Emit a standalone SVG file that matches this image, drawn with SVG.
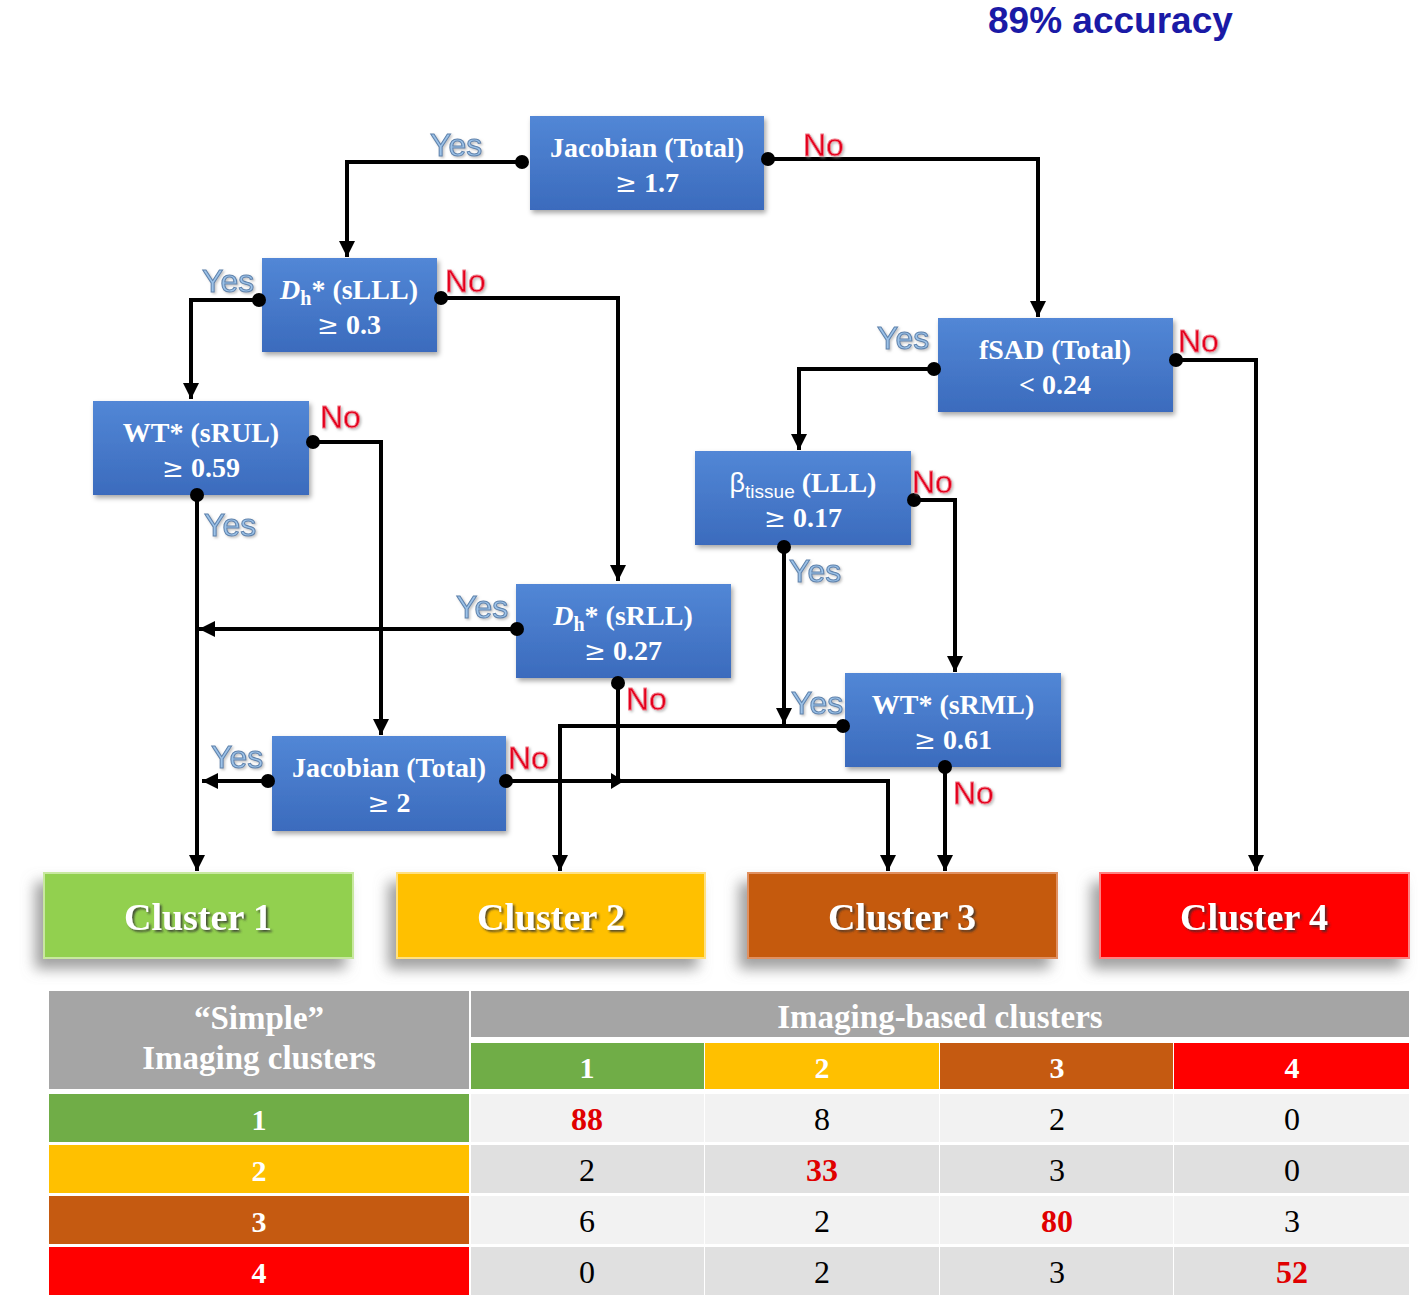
<svg xmlns="http://www.w3.org/2000/svg" width="1418" height="1302" viewBox="0 0 1418 1302">
<defs>
<linearGradient id="blue" x1="0" y1="0" x2="0" y2="1">
<stop offset="0" stop-color="#5287d6"/>
<stop offset="1" stop-color="#3b6bbd"/>
</linearGradient>
<filter id="sh" x="-10%" y="-10%" width="125%" height="130%">
<feDropShadow dx="2" dy="3" stdDeviation="2.5" flood-color="#000" flood-opacity="0.35"/>
</filter>
<filter id="csh" x="-15%" y="-20%" width="130%" height="160%">
<feDropShadow dx="-8" dy="10" stdDeviation="7" flood-color="#888" flood-opacity="0.8"/>
</filter>
<filter id="tsh" x="-10%" y="-20%" width="130%" height="150%">
<feDropShadow dx="2" dy="2" stdDeviation="0.8" flood-color="#333" flood-opacity="0.8"/>
</filter>
<filter id="lsh" x="-10%" y="-20%" width="130%" height="150%">
<feDropShadow dx="1.5" dy="1.5" stdDeviation="1" flood-color="#999" flood-opacity="0.6"/>
</filter>
<marker id="arr" viewBox="0 0 10 10" refX="10" refY="5" markerWidth="4" markerHeight="4" orient="auto" markerUnits="strokeWidth">
<path d="M0,0 L10,5 L0,10 z" fill="#000"/>
</marker>
</defs>
<style>
.box{fill:url(#blue);filter:url(#sh)}
.bt{font-family:"Liberation Serif",serif;font-weight:bold;font-size:28px;fill:#fff;text-anchor:middle}
.ge{font-family:"DejaVu Serif",serif;font-weight:normal;font-size:26px}
.yes{font-family:"Liberation Sans",sans-serif;font-size:32px;fill:#9cc2e8;stroke:#5f83ad;stroke-width:1;filter:url(#lsh)}
.no{font-family:"Liberation Sans",sans-serif;font-size:32px;fill:#e3001b;stroke:#f27a8a;stroke-width:0.8;filter:url(#lsh)}
.ln{fill:none;stroke:#000;stroke-width:4;marker-end:url(#arr)}
.ln2{fill:none;stroke:#000;stroke-width:4}
.dot{fill:#000}
.cl{filter:url(#csh)}
.ct{font-family:"Liberation Serif",serif;font-weight:bold;font-size:38px;fill:#fff;text-anchor:middle;filter:url(#tsh)}
.tt{font-family:"Liberation Serif",serif;font-weight:bold;font-size:30px;fill:#fff;text-anchor:middle}
.th{font-family:"Liberation Serif",serif;font-weight:bold;font-size:33px;fill:#fff;text-anchor:middle}
.tn{font-family:"Liberation Serif",serif;font-size:32px;fill:#000;text-anchor:middle}
.tr{font-family:"Liberation Serif",serif;font-weight:bold;font-size:32px;fill:#e00000;text-anchor:middle}
</style>
<rect width="1418" height="1302" fill="#fff"/>
<text x="988" y="33" font-family="Liberation Sans,sans-serif" font-weight="bold" font-size="37" fill="#1a1aa6">89% accuracy</text>

<g id="connectors">
<path class="ln" d="M522 162 H347 V257"/>
<path class="ln" d="M768 159 H1038 V317"/>
<path class="ln" d="M259 300 H191 V399"/>
<path class="ln" d="M441 298 H618 V581"/>
<path class="ln" d="M934 369 H799 V450"/>
<path class="ln" d="M1176 360 H1256 V871"/>
<path class="ln" d="M313 442 H381 V735"/>
<path class="ln" d="M197 495 V871"/>
<path class="ln" d="M914 500 H955 V672"/>
<path class="ln" d="M784 547 V724"/>
<path class="ln" d="M517 629 H199"/>
<path class="ln2" d="M618 683 V783"/>
<polygon points="611,773 624,781 611,789" fill="#000"/>
<path class="ln" d="M843 726 H560 V871"/>
<path class="ln" d="M945 767 V871"/>
<path class="ln" d="M268 781 H202"/>
<path class="ln" d="M506 781 H888 V871"/>
</g>

<g id="n1"><rect class="box" x="530" y="116" width="234" height="94"/>
<text class="bt" x="647" y="157">Jacobian (Total)</text><text class="bt" x="647" y="192"><tspan class="ge">≥</tspan> 1.7</text>
<circle class="dot" cx="522" cy="162" r="7"/><circle class="dot" cx="768" cy="159" r="7"/></g>

<g id="n2"><rect class="box" x="262" y="258" width="175" height="94"/>
<text class="bt" x="349" y="299"><tspan font-style="italic">D</tspan><tspan font-size="20" dy="6">h</tspan><tspan dy="-6">* (sLLL)</tspan></text><text class="bt" x="349" y="334"><tspan class="ge">≥</tspan> 0.3</text>
<circle class="dot" cx="259" cy="300" r="7"/><circle class="dot" cx="441" cy="298" r="7"/></g>

<g id="n3"><rect class="box" x="938" y="318" width="235" height="94"/>
<text class="bt" x="1055" y="359">fSAD (Total)</text><text class="bt" x="1055" y="394">&lt; 0.24</text>
<circle class="dot" cx="934" cy="369" r="7"/><circle class="dot" cx="1176" cy="360" r="7"/></g>

<g id="n4"><rect class="box" x="93" y="401" width="216" height="94"/>
<text class="bt" x="201" y="442">WT* (sRUL)</text><text class="bt" x="201" y="477"><tspan class="ge">≥</tspan> 0.59</text>
<circle class="dot" cx="313" cy="442" r="7"/><circle class="dot" cx="197" cy="495" r="7"/></g>

<g id="n5"><rect class="box" x="695" y="451" width="216" height="94"/>
<text class="bt" x="803" y="492"><tspan font-family="Liberation Sans,sans-serif" font-weight="normal" font-size="27">β</tspan><tspan font-family="Liberation Sans,sans-serif" font-weight="normal" font-size="19" dy="6">tissue</tspan><tspan dy="-6"> (LLL)</tspan></text><text class="bt" x="803" y="527"><tspan class="ge">≥</tspan> 0.17</text>
<circle class="dot" cx="914" cy="500" r="7"/><circle class="dot" cx="784" cy="547" r="7"/></g>

<g id="n6"><rect class="box" x="516" y="584" width="215" height="94"/>
<text class="bt" x="623" y="625"><tspan font-style="italic">D</tspan><tspan font-size="20" dy="6">h</tspan><tspan dy="-6">* (sRLL)</tspan></text><text class="bt" x="623" y="660"><tspan class="ge">≥</tspan> 0.27</text>
<circle class="dot" cx="517" cy="629" r="7"/><circle class="dot" cx="618" cy="683" r="7"/></g>

<g id="n7"><rect class="box" x="845" y="673" width="216" height="94"/>
<text class="bt" x="953" y="714">WT* (sRML)</text><text class="bt" x="953" y="749"><tspan class="ge">≥</tspan> 0.61</text>
<circle class="dot" cx="843" cy="726" r="7"/><circle class="dot" cx="945" cy="767" r="7"/></g>

<g id="n8"><rect class="box" x="272" y="736" width="234" height="95"/>
<text class="bt" x="389" y="777">Jacobian (Total)</text><text class="bt" x="389" y="812"><tspan class="ge">≥</tspan> 2</text>
<circle class="dot" cx="268" cy="781" r="7"/><circle class="dot" cx="506" cy="781" r="7"/></g>

<g id="labels">
<text class="yes" x="430" y="156">Yes</text><text class="no" x="803" y="156">No</text>
<text class="yes" x="202" y="292">Yes</text><text class="no" x="445" y="292">No</text>
<text class="yes" x="877" y="349">Yes</text><text class="no" x="1178" y="352">No</text>
<text class="no" x="320" y="428">No</text><text class="yes" x="204" y="536">Yes</text>
<text class="no" x="912" y="493">No</text><text class="yes" x="789" y="582">Yes</text>
<text class="yes" x="456" y="618">Yes</text><text class="no" x="626" y="710">No</text>
<text class="yes" x="791" y="714">Yes</text><text class="no" x="953" y="804">No</text>
<text class="yes" x="211" y="768">Yes</text><text class="no" x="508" y="769">No</text>
</g>

<g id="c1"><rect class="cl" x="44" y="873" width="309" height="85" fill="#92d050" stroke="#c8e8a0" stroke-width="2"/><text class="ct" x="198" y="930">Cluster 1</text></g>
<g id="c2"><rect class="cl" x="397" y="873" width="308" height="85" fill="#ffc000" stroke="#ffe080" stroke-width="2"/><text class="ct" x="551" y="930">Cluster 2</text></g>
<g id="c3"><rect class="cl" x="748" y="873" width="309" height="85" fill="#c55a11" stroke="#e09060" stroke-width="2"/><text class="ct" x="902" y="930">Cluster 3</text></g>
<g id="c4"><rect class="cl" x="1100" y="873" width="309" height="85" fill="#ff0000" stroke="#ff8080" stroke-width="2"/><text class="ct" x="1254" y="930">Cluster 4</text></g>

<g id="table">
<rect x="49" y="991" width="420" height="98" fill="#a5a5a5"/>
<text class="th" x="259" y="1029">“Simple”</text>
<text class="th" x="259" y="1069">Imaging clusters</text>
<rect x="471" y="991" width="938" height="46" fill="#a5a5a5"/>
<text class="th" x="940" y="1028">Imaging-based clusters</text>
<rect x="471" y="1043" width="233" height="46" fill="#70ad47"/>
<rect x="705" y="1043" width="234" height="46" fill="#ffc000"/>
<rect x="940" y="1043" width="233" height="46" fill="#c55a11"/>
<rect x="1174" y="1043" width="235" height="46" fill="#ff0000"/>
<text class="tt" x="587" y="1078">1</text><text class="tt" x="822" y="1078">2</text><text class="tt" x="1057" y="1078">3</text><text class="tt" x="1292" y="1078">4</text>

<rect x="49" y="1094" width="420" height="48" fill="#70ad47"/>
<rect x="49" y="1145" width="420" height="48" fill="#ffc000"/>
<rect x="49" y="1196" width="420" height="48" fill="#c55a11"/>
<rect x="49" y="1247" width="420" height="48" fill="#ff0000"/>
<text class="tt" x="259" y="1130">1</text><text class="tt" x="259" y="1181">2</text><text class="tt" x="259" y="1232">3</text><text class="tt" x="259" y="1283">4</text>

<g fill="#f2f2f2">
<rect x="471" y="1094" width="233" height="48"/><rect x="705" y="1094" width="234" height="48"/><rect x="940" y="1094" width="233" height="48"/><rect x="1174" y="1094" width="235" height="48"/>
<rect x="471" y="1196" width="233" height="48"/><rect x="705" y="1196" width="234" height="48"/><rect x="940" y="1196" width="233" height="48"/><rect x="1174" y="1196" width="235" height="48"/>
</g>
<g fill="#e0e0e0">
<rect x="471" y="1145" width="233" height="48"/><rect x="705" y="1145" width="234" height="48"/><rect x="940" y="1145" width="233" height="48"/><rect x="1174" y="1145" width="235" height="48"/>
<rect x="471" y="1247" width="233" height="48"/><rect x="705" y="1247" width="234" height="48"/><rect x="940" y="1247" width="233" height="48"/><rect x="1174" y="1247" width="235" height="48"/>
</g>
<text class="tr" x="587" y="1130">88</text><text class="tn" x="822" y="1130">8</text><text class="tn" x="1057" y="1130">2</text><text class="tn" x="1292" y="1130">0</text>
<text class="tn" x="587" y="1181">2</text><text class="tr" x="822" y="1181">33</text><text class="tn" x="1057" y="1181">3</text><text class="tn" x="1292" y="1181">0</text>
<text class="tn" x="587" y="1232">6</text><text class="tn" x="822" y="1232">2</text><text class="tr" x="1057" y="1232">80</text><text class="tn" x="1292" y="1232">3</text>
<text class="tn" x="587" y="1283">0</text><text class="tn" x="822" y="1283">2</text><text class="tn" x="1057" y="1283">3</text><text class="tr" x="1292" y="1283">52</text>
</g>
</svg>
